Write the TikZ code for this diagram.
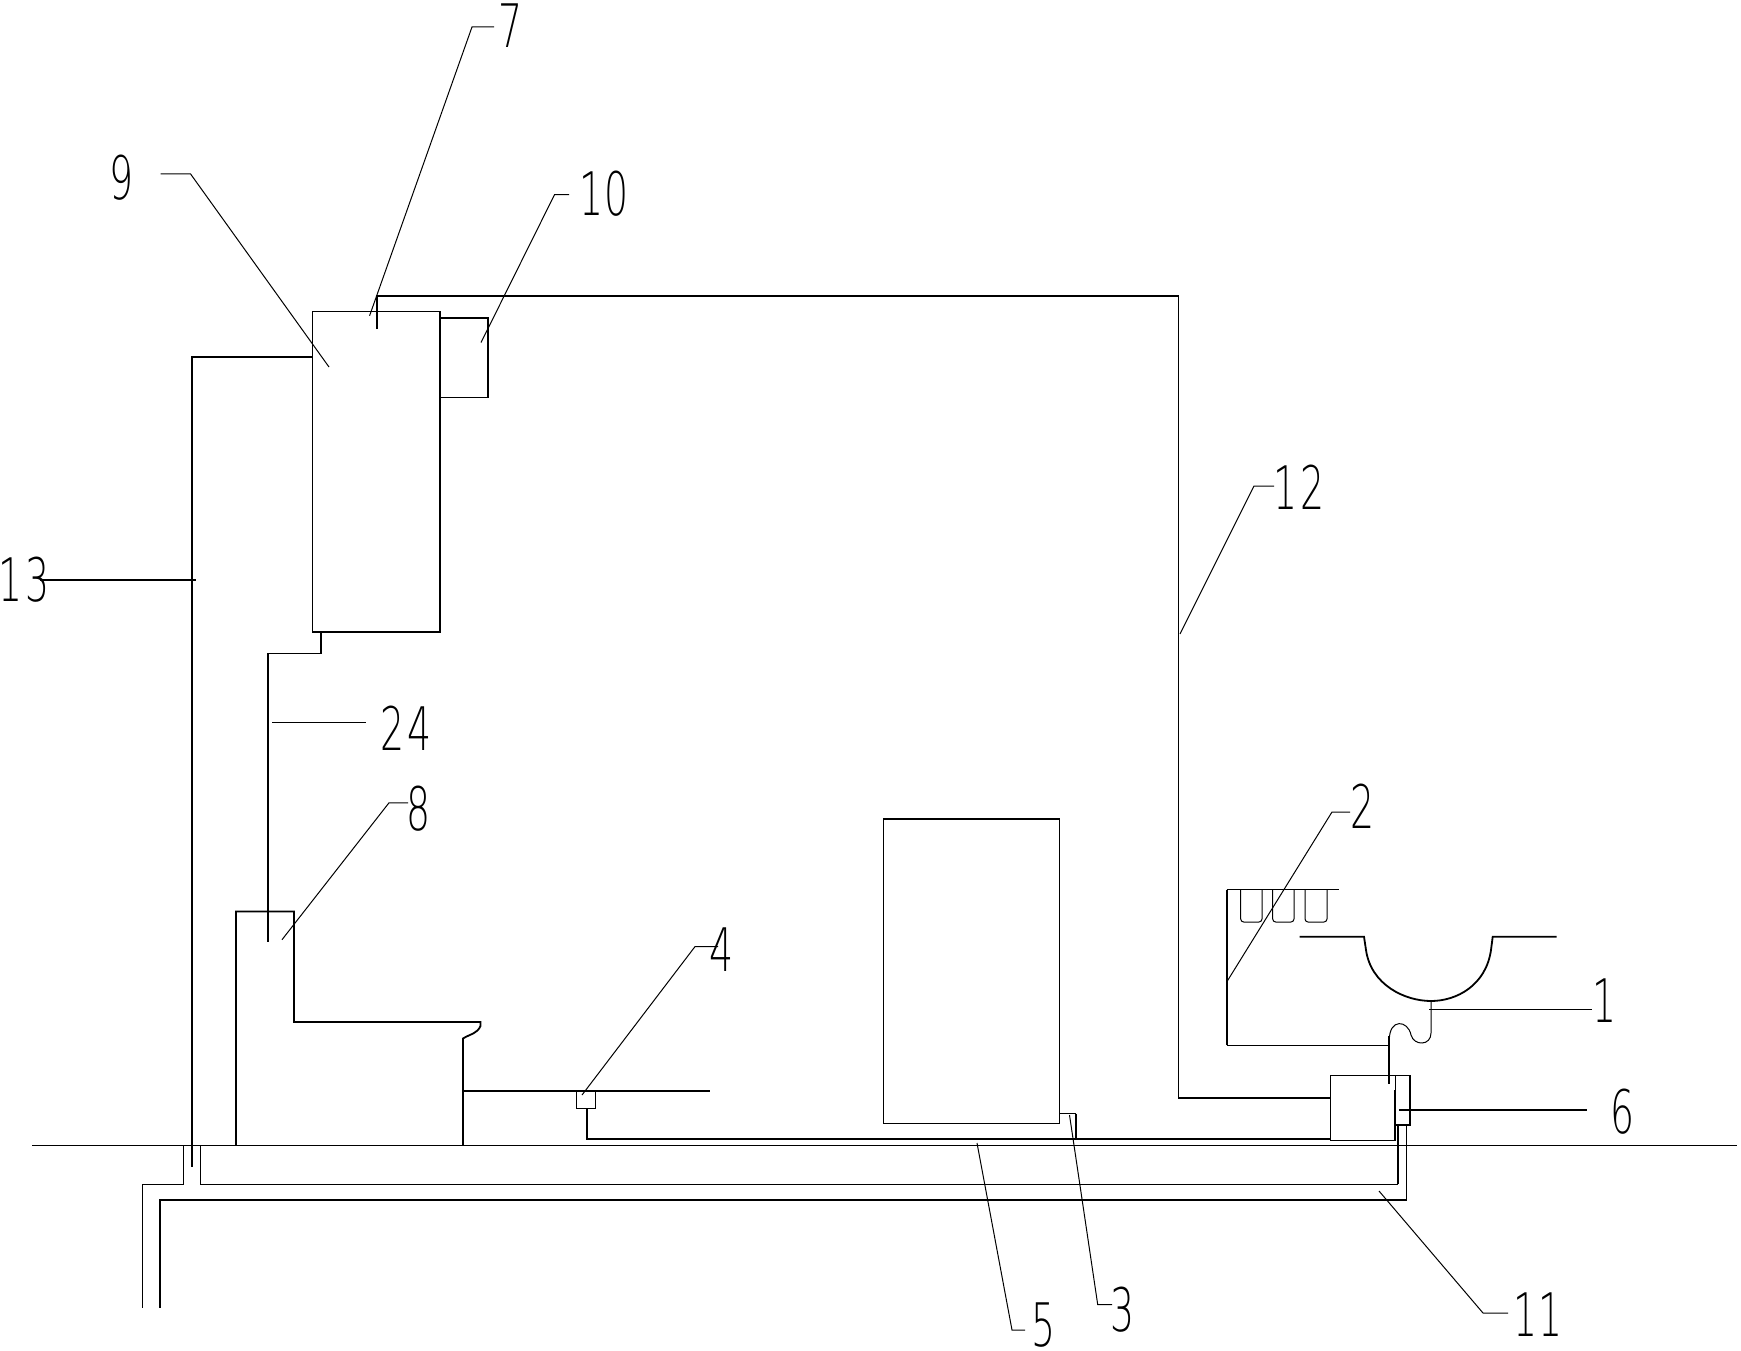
\documentclass[tikz,border=0pt]{standalone}
\usepackage{fontspec}
\newfontfamily\lblfont{DejaVu Sans ExtraLight}
\newcommand{\numlbl}[1]{\scalebox{.63}[1]{#1}}
\tikzset{
  thinline/.style={line width=1pt},
  pipe/.style={line width=1.8pt},
  leader/.style={line width=1pt},
  callout/.style={inner sep=0pt, font=\fontsize{60}{60}\lblfont},
}
\begin{document}
\begin{tikzpicture}[x=1pt,y=-1pt,line join=miter]
\useasboundingbox (0,0) rectangle (1741,1351);

% ground
\draw [thinline] (32,1145.5) -- (1737,1145.5);

% tank with side box
\draw [thinline] (312.5,311.5) rectangle (440,632) node[midway] (tank) {};
\draw [pipe] (312.5,632) -- (440,632) -- (440,311.5);
\draw [pipe] (440,318) -- (488,318) -- (488,397.5) -- (440,397.5);

% long pipes
\draw [pipe] (377,329) -- (377,296) -- (1178.5,296) -- (1178.5,1098) -- (1330.5,1098);
\draw [pipe] (312.5,357) -- (192,357) -- (192,1167);
\draw [pipe] (321,632) -- (321,653.5) -- (268,653.5) -- (268,942);

% toilet
\draw [pipe] (236,1145.5) -- (236,911.5) -- (294,911.5) -- (294,1022) -- (480.5,1022) -- (480.5,1026) .. controls (477,1034) and (470,1034) .. (463,1038.5) -- (463,1145.5);
\draw [pipe] (463,1091) -- (709.5,1091);
\draw [thinline] (576.5,1091) rectangle (595.5,1108) node[midway] (valve) {};
\draw [pipe] (587,1108) -- (587,1138.7) -- (1330.5,1138.7);

% cabinet
\draw [thinline] (883.5,819) rectangle (1059.5,1123.5) node[midway] (cabinet) {};
\draw [pipe] (883.5,1123.5) -- (883.5,819) -- (1059.5,819);
\draw [thinline] (1059.5,1113.5) -- (1076,1113.5);
\draw [pipe] (1076,1113.5) -- (1076,1138.7);

% box at the sink trap
\draw [thinline] (1330.5,1075.5) rectangle (1395,1140) node[midway] (pump) {};
\draw [pipe] (1330.5,1075.5) -- (1410,1075.5) -- (1410,1125) -- (1395,1125);
\draw [pipe] (1395,1090) -- (1395,1140);

% under floor
\draw [pipe] (1398,1125) -- (1398,1184);
\draw [thinline] (1398,1184) -- (200,1184) -- (200,1145.5);
\draw [thinline] (183.7,1145.5) -- (183.7,1184) -- (142.5,1184);
\draw [pipe] (142.5,1184) -- (142.5,1308);
\draw [thinline] (1406.7,1125) -- (1406.7,1200);
\draw [pipe] (1406.7,1200) -- (160,1200) -- (160,1308);

% shelf and cups
\draw [thinline] (1226.7,889.5) -- (1339,889.5);
\draw [pipe] (1226.7,889.5) -- (1226.7,1045);
\draw [thinline] (1226.7,1045) -- (1389.3,1045);
\draw [thinline,rounded corners=3pt] (1240.7,889.5) -- (1240.7,922) -- (1262,922) -- (1262,889.5);
\draw [thinline,rounded corners=3pt] (1272.7,889.5) -- (1272.7,922) -- (1294,922) -- (1294,889.5);
\draw [thinline,rounded corners=3pt] (1305,889.5) -- (1305,922) -- (1327,922) -- (1327,889.5);

% basin and trap
\draw [pipe] (1299.5,936.7) -- (1364,936.7) -- (1366,950) .. controls (1371,985) and (1405,1001) .. (1431,1001) .. controls (1457,1001) and (1486,985) .. (1491,950) -- (1492.7,936.7) -- (1556.7,936.7);
\draw [thinline] (1431,1001) -- (1431,1033) .. controls (1431,1046) and (1414,1046) .. (1411,1035) .. controls (1408,1020) and (1389.3,1018) .. (1389.3,1040);
\draw [pipe] (1389.3,1036) -- (1389.3,1084);

% callouts
\node [callout] (num1) at (1605,1001) {\numlbl{1}};
\node [callout] (num2) at (1363,806) {\numlbl{2}};
\node [callout] (num3) at (1123,1310) {\numlbl{3}};
\node [callout] (num4) at (722,950) {\numlbl{4}};
\node [callout] (num5) at (1044,1325.5) {\numlbl{5}};
\node [callout] (num6) at (1623,1111.5) {\numlbl{6}};
\node [callout] (num7) at (511,26) {\numlbl{7}};
\node [callout] (num8) at (418.5,809) {\numlbl{8}};
\node [callout] (num9) at (121.5,178) {\numlbl{9}};
\node [callout] (num10) at (604,194) {\numlbl{1\kern1pt 0}};
\node [callout] (num11) at (1538,1315) {\numlbl{11}};
\node [callout] (num12) at (1299,487) {\numlbl{1\kern4pt 2}};
\node [callout] (num13) at (24,580) {\numlbl{1\kern4pt 3}};
\node [callout] (num24) at (406,728) {\numlbl{2\kern4pt 4}};

\draw [pipe] (1429,1009.5) -- (1591.5,1009.5);
\draw [leader] (1226.7,982) -- (1332,812) -- (1350,812);
\draw [leader] (1069.5,1115) -- (1097.7,1304.5) -- (1112,1304.5);
\draw [leader] (582,1095) -- (695,946.6) -- (718,946.6);
\draw [leader] (977,1143) -- (1012,1330) -- (1025,1330);
\draw [pipe] (1399,1110) -- (1586.5,1110);
\draw [leader] (369.6,315.7) -- (472,27) -- (494,27);
\draw [leader] (282,939.7) -- (389,802.8) -- (408,802.8);
\draw [leader] (329,367) -- (190.6,174) -- (160.7,174);
\draw [leader] (481,342.6) -- (554.5,194.7) -- (569,194.7);
\draw [leader] (1379,1191) -- (1483,1313) -- (1508,1313);
\draw [leader] (1180,634) -- (1254,486) -- (1274,486);
\draw [pipe] (40,580) -- (195.5,580);
\draw [leader] (272,722.8) -- (366,722.8);
\end{tikzpicture}
\end{document}
